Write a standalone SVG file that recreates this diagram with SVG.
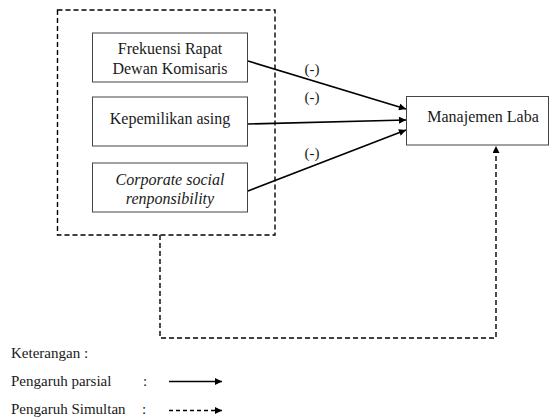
<svg xmlns="http://www.w3.org/2000/svg" width="550" height="419" viewBox="0 0 550 419" font-family="'Liberation Serif', 'DejaVu Serif', serif">
<defs>
<marker id="ah" viewBox="0 0 10 10" refX="10" refY="5" markerWidth="8" markerHeight="7" markerUnits="userSpaceOnUse" orient="auto">
<path d="M0,0 L10,5 L0,10 z" fill="#000"/>
</marker>
</defs>
<style>
text{font-family:'Liberation Serif','DejaVu Serif',serif;fill:#1a1a1a}
.box{fill:#fff;stroke:#444;stroke-width:1}
.lbl{font-size:16px;text-anchor:middle}
.it{font-style:italic}
.sign{font-size:15px;text-anchor:middle}
.leg{font-size:15px}
.solid{fill:none;stroke:#000;stroke-width:1.6}
.dash{fill:none;stroke:#000;stroke-width:1.4;stroke-dasharray:5,3}
</style>
<rect x="0" y="0" width="550" height="419" fill="#fff"/>
<g id="group-box">
<rect x="57.5" y="10" width="217.5" height="225" class="dash"/>
</g>
<g id="connectors">
<line x1="248" y1="61" x2="406" y2="109" class="solid" marker-end="url(#ah)"/>
<line x1="248" y1="124" x2="406" y2="120" class="solid" marker-end="url(#ah)"/>
<line x1="248" y1="191" x2="406" y2="130" class="solid" marker-end="url(#ah)"/>
<polyline points="160,235 160,338 496,338 496,146" class="dash" marker-end="url(#ah)"/>
<text x="312" y="74" class="sign">(-)</text>
<text x="312" y="101.5" class="sign">(-)</text>
<text x="312" y="158" class="sign">(-)</text>
</g>
<g id="node-frekuensi">
<rect x="92.5" y="33" width="155" height="49" class="box"/>
<text x="170" y="54" class="lbl">Frekuensi Rapat</text>
<text x="170" y="74" class="lbl">Dewan Komisaris</text>
</g>
<g id="node-kepemilikan">
<rect x="92.5" y="97" width="155" height="49" class="box"/>
<text x="170" y="124" class="lbl">Kepemilikan asing</text>
</g>
<g id="node-csr">
<rect x="92.5" y="163" width="155" height="49" class="box"/>
<text x="170" y="184.5" class="lbl it">Corporate social</text>
<text x="170" y="204" class="lbl it">renponsibility</text>
</g>
<g id="node-manajemen">
<rect x="406.5" y="96.5" width="142" height="48.5" class="box"/>
<text x="483" y="122" class="lbl">Manajemen Laba</text>
</g>
<g id="legend">
<text x="11" y="358" class="leg">Keterangan :</text>
<text x="11" y="386" class="leg">Pengaruh parsial</text>
<text x="143" y="386" class="leg">:</text>
<line x1="169" y1="381.5" x2="222" y2="381.5" class="solid" marker-end="url(#ah)"/>
<text x="11" y="414" class="leg">Pengaruh Simultan</text>
<text x="142" y="414" class="leg">:</text>
<line x1="169" y1="410.5" x2="222" y2="410.5" class="dash" style="stroke-dasharray:4,3" marker-end="url(#ah)"/>
</g>
</svg>
